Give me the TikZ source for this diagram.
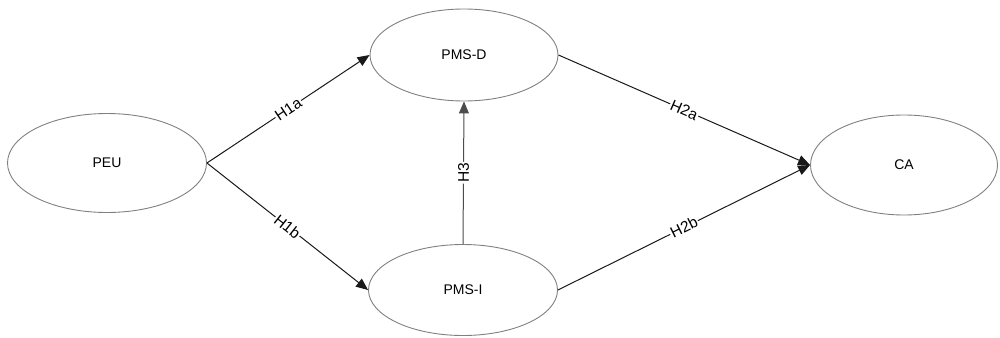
\documentclass[tikz,border=0pt]{standalone}
\usepackage{fontspec}
\setmainfont{Liberation Sans}
\usetikzlibrary{arrows.meta,shapes.geometric}
\begin{document}
\begin{tikzpicture}[x=1pt,y=-1pt,
  construct/.style={draw=black!50,line width=0.9pt,ellipse,inner sep=0pt,font=\fontsize{14}{16}\selectfont},
  path/.style={draw=black!90,line width=1pt,-{Triangle[length=12pt,width=10pt]}},
  hyp/.style={fill=white,inner sep=1pt,sloped,font=\fontsize{15.5}{17}\selectfont}]
\useasboundingbox (0,0) rectangle (1000,337);
\node[construct,minimum width=199pt,minimum height=99pt] (peu) at (107,163) {PEU};
\node[construct,minimum width=188pt,minimum height=92pt] (pmsd) at (464,55) {PMS-D};
\node[construct,minimum width=189pt,minimum height=91pt] (pmsi) at (463,290) {PMS-I};
\node[construct,minimum width=187pt,minimum height=100pt] (ca) at (904,165) {CA};
\draw[path] (peu.east) -- node[hyp] {H1a} (pmsd.west);
\draw[path] (peu.east) -- node[hyp] {H1b} (pmsi.west);
\draw[path,draw=black!70] (pmsi.north) -- node[hyp] {H3} (pmsd.south);
\draw[path] (pmsd.east) -- node[hyp] {H2a} (ca.west);
\draw[path] (pmsi.east) -- node[hyp] {H2b} (ca.west);
\end{tikzpicture}
\end{document}
